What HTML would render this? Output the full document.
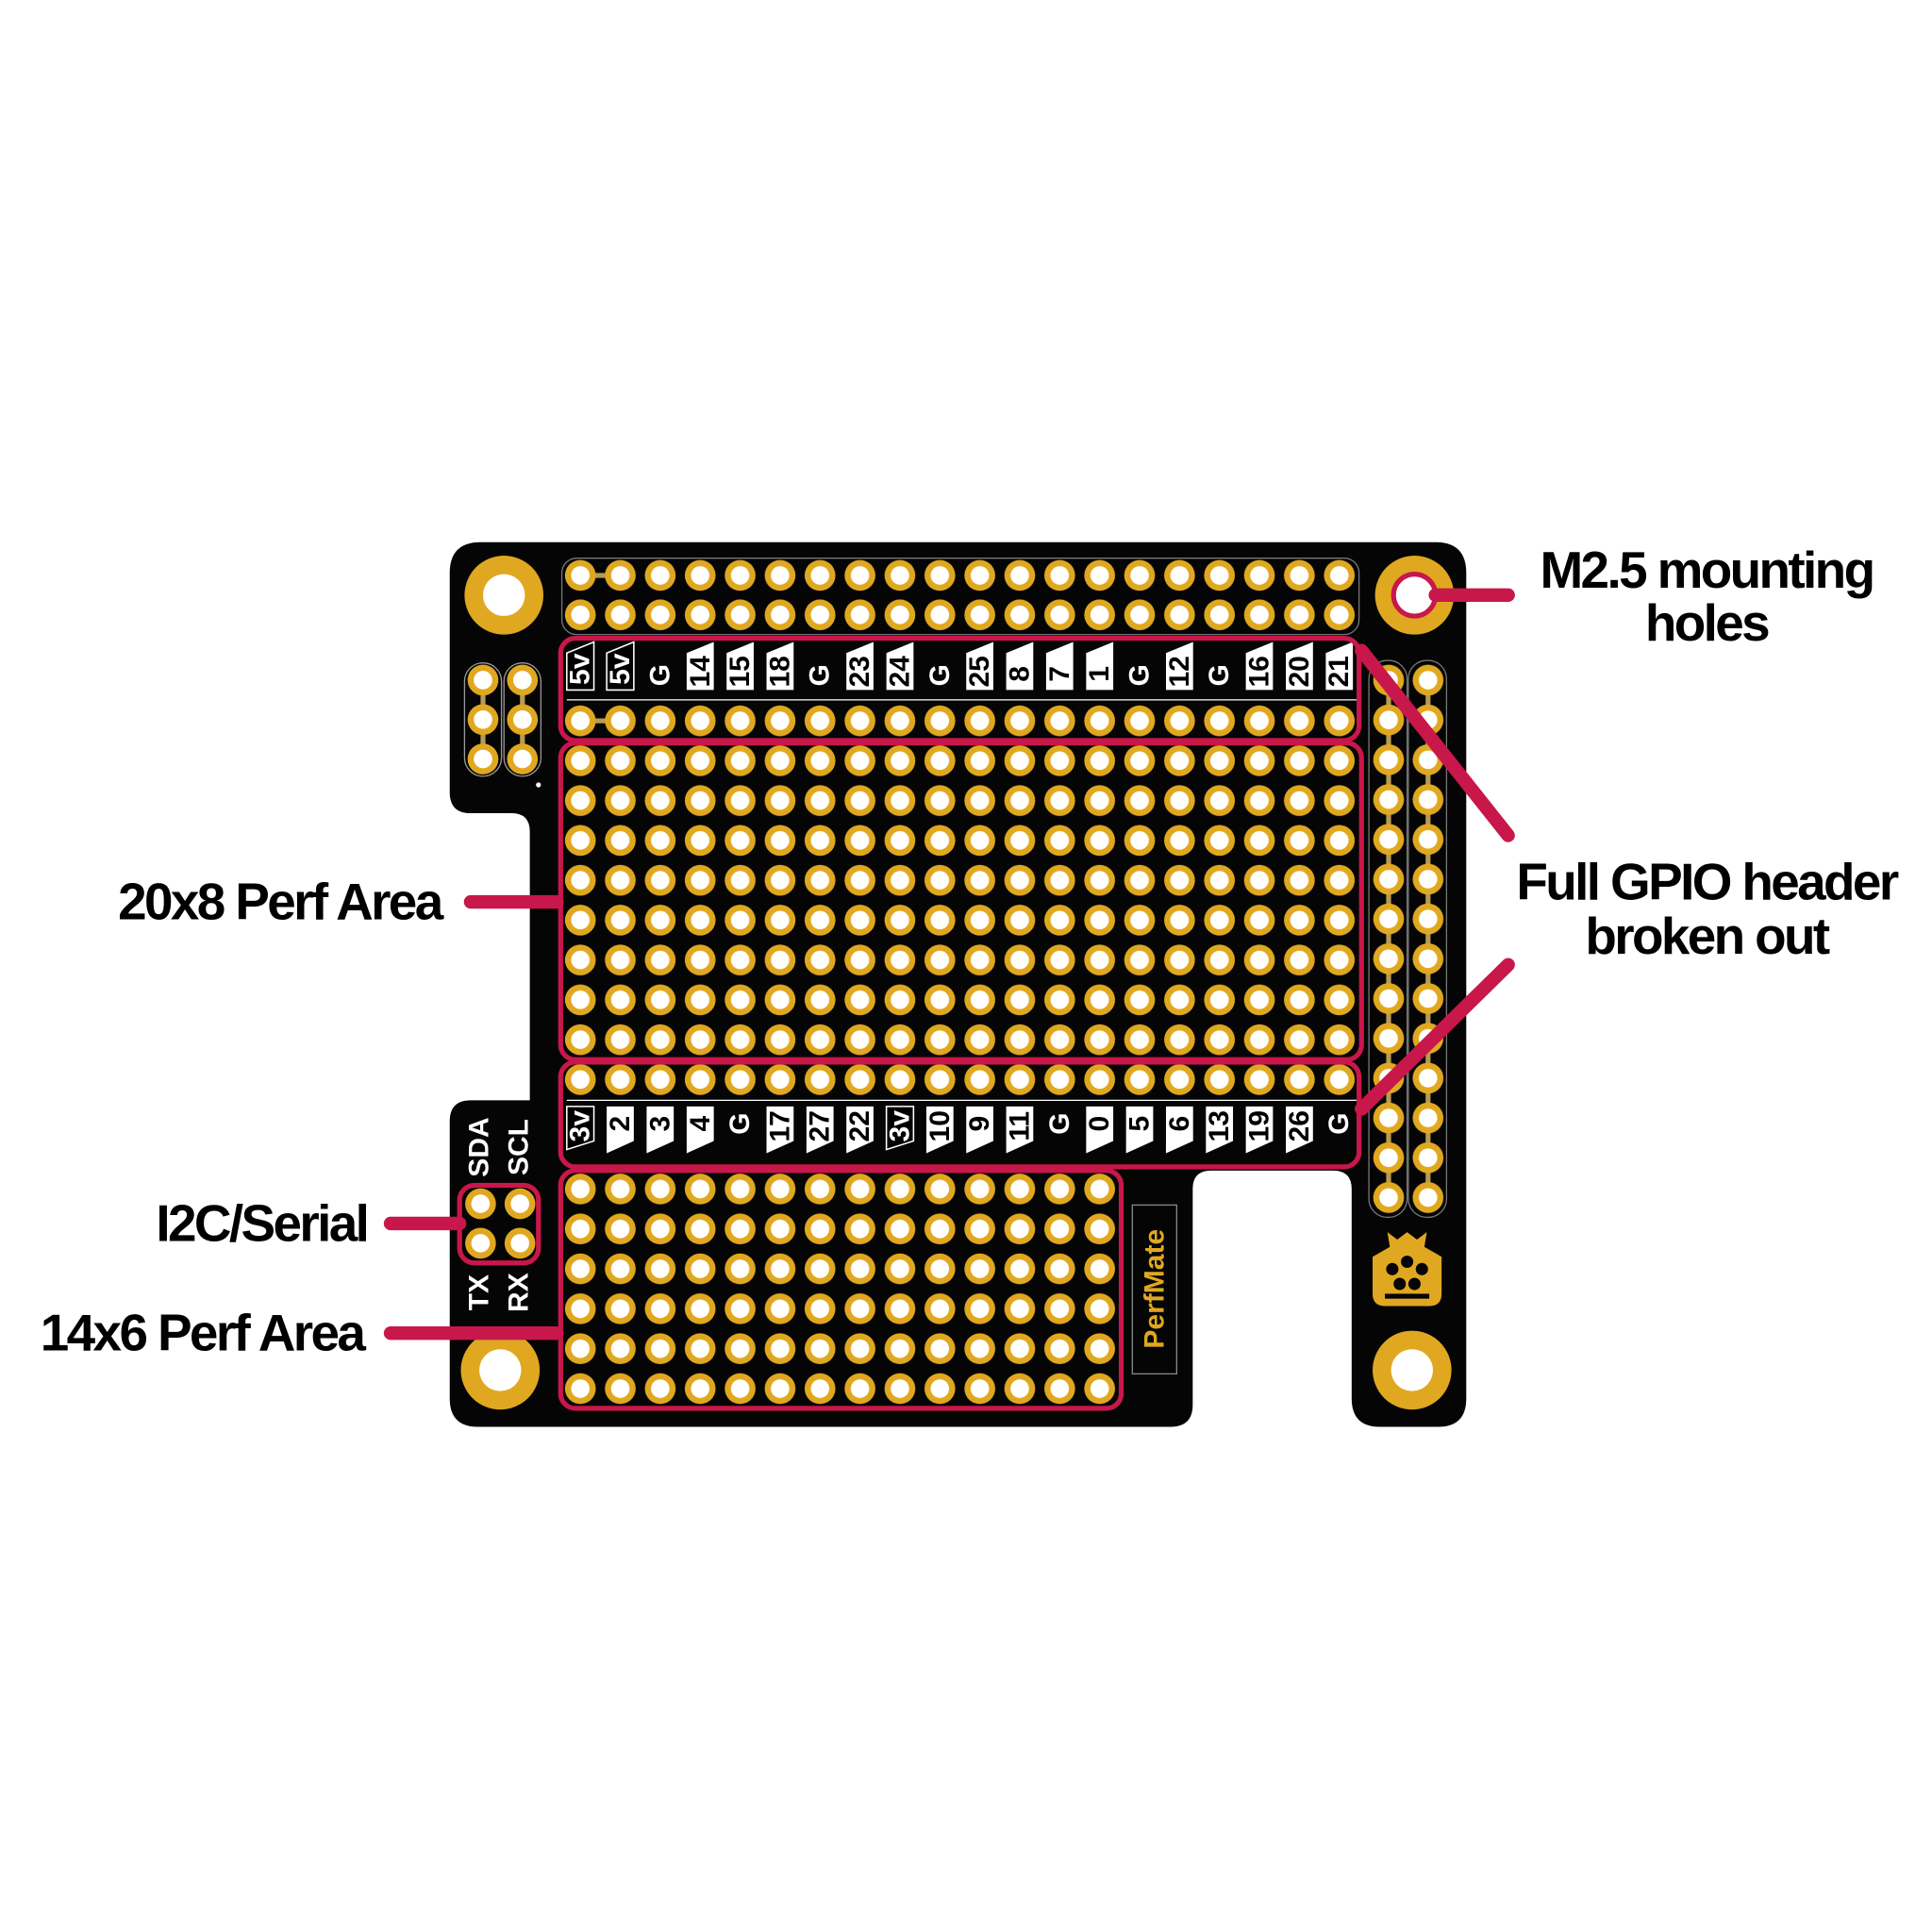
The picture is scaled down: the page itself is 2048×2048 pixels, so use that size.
<!DOCTYPE html>
<html><head><meta charset="utf-8"><style>
html,body{margin:0;padding:0;background:#fff}
svg{display:block}
.lb{font-family:"Liberation Sans",sans-serif;font-weight:bold;font-size:42px;letter-spacing:-2px;fill:#000}
.pl{font-family:"Liberation Sans",sans-serif;font-weight:bold;font-size:23px;dominant-baseline:central;text-anchor:middle}
</style></head><body>
<svg width="2048" height="2048" viewBox="0 0 1568 1568" xmlns="http://www.w3.org/2000/svg">
<defs>
<g id="pad"><circle r="12.5" fill="#e0a820"/><circle r="7.5" fill="#fff"/></g>
<pattern id="pA" patternUnits="userSpaceOnUse" x="454.8" y="450.8" width="32.42" height="32" ><use href="#pad" x="16.21" y="16.2"/></pattern>
<pattern id="pB" patternUnits="userSpaceOnUse" x="454.8" y="568.8" width="32.42" height="32.35"><use href="#pad" x="16.21" y="16.2"/></pattern>
<pattern id="pD" patternUnits="userSpaceOnUse" x="454.8" y="948.8" width="32.42" height="32.4"><use href="#pad" x="16.21" y="16.2"/></pattern>
<pattern id="pE" patternUnits="userSpaceOnUse" x="1111" y="535.85" width="32" height="32.3"><use href="#pad" x="16" y="16.15"/></pattern>
</defs>
<path d="M390 440 H1165 Q1190 440 1190 465 V1135 Q1190 1158 1167 1158 H1120 Q1097 1158 1097 1135 V965 Q1097 950 1082 950 H983 Q968 950 968 965 V1140 Q968 1158 950 1158 H388 Q365 1158 365 1135 V910 Q365 893 382 893 H430 V675 Q430 660 415 660 H382 Q365 660 365 643 V465 Q365 440 390 440 Z" fill="#050505"/>
<rect x="456" y="453" width="647" height="62" rx="12" fill="none" stroke="#777" stroke-width="1"/>
<rect x="377" y="538" width="30" height="92" rx="15" fill="none" stroke="#999" stroke-width="1"/>
<rect x="409" y="538" width="30" height="92" rx="15" fill="none" stroke="#999" stroke-width="1"/>
<rect x="1111" y="536" width="31" height="452" rx="15" fill="none" stroke="#777" stroke-width="1"/>
<rect x="1143" y="536" width="31" height="452" rx="15" fill="none" stroke="#777" stroke-width="1"/>
<g stroke="#b89a50" stroke-width="4">
<line x1="471" y1="467" x2="503" y2="467"/><line x1="471" y1="585" x2="503" y2="585"/>
<line x1="392" y1="552" x2="392" y2="616"/><line x1="424" y1="552" x2="424" y2="616"/>
<line x1="1127" y1="552" x2="1127" y2="972"/><line x1="1159" y1="552" x2="1159" y2="972"/>
</g>
<rect x="454.8" y="450.8" width="648.4" height="64" fill="url(#pA)"/>
<rect x="454.8" y="568.8" width="648.4" height="323.5" fill="url(#pB)"/>
<rect x="454.8" y="948.8" width="453.9" height="194.4" fill="url(#pD)"/>
<rect x="1111" y="535.85" width="64" height="452.2" fill="url(#pE)"/>
<use href="#pad" x="392" y="552"/><use href="#pad" x="424" y="552"/>
<use href="#pad" x="392" y="584"/><use href="#pad" x="424" y="584"/>
<use href="#pad" x="392" y="616"/><use href="#pad" x="424" y="616"/>
<use href="#pad" x="390" y="977"/><use href="#pad" x="422" y="977"/>
<use href="#pad" x="390" y="1009"/><use href="#pad" x="422" y="1009"/>
<circle cx="437" cy="637" r="2" fill="#fff"/>
<g fill="#e0a820"><circle cx="409" cy="483" r="32"/><circle cx="1148" cy="483" r="32"/><circle cx="406" cy="1112" r="32"/><circle cx="1146" cy="1112" r="32"/></g>
<g fill="#fff"><circle cx="409" cy="483" r="17"/><circle cx="406" cy="1112" r="17"/><circle cx="1146" cy="1112" r="17"/></g>
<circle cx="1148" cy="483" r="17" fill="#fff" stroke="#c8174a" stroke-width="4"/>
<g stroke="#fff" stroke-width="1" fill="none"><line x1="460" y1="568" x2="1103" y2="568"/><line x1="460" y1="893" x2="1103" y2="893"/></g>
<g class="pl">
<polygon points="460,530 482,521 482,560 460,560" fill="#000" stroke="#fff" stroke-width="1.2"/><text x="471" y="543" fill="#fff" transform="rotate(-90 471 543)">5v</text>
<polygon points="492.4,530 514.4,521 514.4,560 492.4,560" fill="#000" stroke="#fff" stroke-width="1.2"/><text x="503.4" y="543" fill="#fff" transform="rotate(-90 503.4 543)">5v</text>
<text x="535.8" y="548" fill="#fff" transform="rotate(-90 535.8 548)">G</text>
<polygon points="557.3,530 579.3,521 579.3,560 557.3,560" fill="#fff"/><text x="568.3" y="545" fill="#000" transform="rotate(-90 568.3 545)">14</text>
<polygon points="589.7,530 611.7,521 611.7,560 589.7,560" fill="#fff"/><text x="600.7" y="545" fill="#000" transform="rotate(-90 600.7 545)">15</text>
<polygon points="622.1,530 644.1,521 644.1,560 622.1,560" fill="#fff"/><text x="633.1" y="545" fill="#000" transform="rotate(-90 633.1 545)">18</text>
<text x="665.5" y="548" fill="#fff" transform="rotate(-90 665.5 548)">G</text>
<polygon points="686.9,530 708.9,521 708.9,560 686.9,560" fill="#fff"/><text x="697.9" y="545" fill="#000" transform="rotate(-90 697.9 545)">23</text>
<polygon points="719.4,530 741.4,521 741.4,560 719.4,560" fill="#fff"/><text x="730.4" y="545" fill="#000" transform="rotate(-90 730.4 545)">24</text>
<text x="762.8" y="548" fill="#fff" transform="rotate(-90 762.8 548)">G</text>
<polygon points="784.2,530 806.2,521 806.2,560 784.2,560" fill="#fff"/><text x="795.2" y="545" fill="#000" transform="rotate(-90 795.2 545)">25</text>
<polygon points="816.6,530 838.6,521 838.6,560 816.6,560" fill="#fff"/><text x="827.6" y="547" fill="#000" transform="rotate(-90 827.6 547)">8</text>
<polygon points="849,530 871,521 871,560 849,560" fill="#fff"/><text x="860" y="547" fill="#000" transform="rotate(-90 860 547)">7</text>
<polygon points="881.5,530 903.5,521 903.5,560 881.5,560" fill="#fff"/><text x="892.5" y="547" fill="#000" transform="rotate(-90 892.5 547)">1</text>
<text x="924.9" y="548" fill="#fff" transform="rotate(-90 924.9 548)">G</text>
<polygon points="946.3,530 968.3,521 968.3,560 946.3,560" fill="#fff"/><text x="957.3" y="545" fill="#000" transform="rotate(-90 957.3 545)">12</text>
<text x="989.7" y="548" fill="#fff" transform="rotate(-90 989.7 548)">G</text>
<polygon points="1011.1,530 1033.1,521 1033.1,560 1011.1,560" fill="#fff"/><text x="1022.1" y="545" fill="#000" transform="rotate(-90 1022.1 545)">16</text>
<polygon points="1043.6,530 1065.6,521 1065.6,560 1043.6,560" fill="#fff"/><text x="1054.6" y="545" fill="#000" transform="rotate(-90 1054.6 545)">20</text>
<polygon points="1076,530 1098,521 1098,560 1076,560" fill="#fff"/><text x="1087" y="545" fill="#000" transform="rotate(-90 1087 545)">21</text>
</g>
<g class="pl">
<polygon points="460,898 482,898 482,926 460,933" fill="#000" stroke="#fff" stroke-width="1.2"/><text x="471" y="914" fill="#fff" transform="rotate(-90 471 914)">3v</text>
<polygon points="492.4,898 514.4,898 514.4,926 492.4,936" fill="#fff"/><text x="503.4" y="912" fill="#000" transform="rotate(-90 503.4 912)">2</text>
<polygon points="524.8,898 546.8,898 546.8,926 524.8,936" fill="#fff"/><text x="535.8" y="912" fill="#000" transform="rotate(-90 535.8 912)">3</text>
<polygon points="557.3,898 579.3,898 579.3,926 557.3,936" fill="#fff"/><text x="568.3" y="912" fill="#000" transform="rotate(-90 568.3 912)">4</text>
<text x="600.7" y="912" fill="#fff" transform="rotate(-90 600.7 912)">G</text>
<polygon points="622.1,898 644.1,898 644.1,926 622.1,936" fill="#fff"/><text x="633.1" y="914" fill="#000" transform="rotate(-90 633.1 914)">17</text>
<polygon points="654.5,898 676.5,898 676.5,926 654.5,936" fill="#fff"/><text x="665.5" y="914" fill="#000" transform="rotate(-90 665.5 914)">27</text>
<polygon points="686.9,898 708.9,898 708.9,926 686.9,936" fill="#fff"/><text x="697.9" y="914" fill="#000" transform="rotate(-90 697.9 914)">22</text>
<polygon points="719.4,898 741.4,898 741.4,926 719.4,933" fill="#000" stroke="#fff" stroke-width="1.2"/><text x="730.4" y="914" fill="#fff" transform="rotate(-90 730.4 914)">3v</text>
<polygon points="751.8,898 773.8,898 773.8,926 751.8,936" fill="#fff"/><text x="762.8" y="914" fill="#000" transform="rotate(-90 762.8 914)">10</text>
<polygon points="784.2,898 806.2,898 806.2,926 784.2,936" fill="#fff"/><text x="795.2" y="912" fill="#000" transform="rotate(-90 795.2 912)">9</text>
<polygon points="816.6,898 838.6,898 838.6,926 816.6,936" fill="#fff"/><text x="827.6" y="914" fill="#000" transform="rotate(-90 827.6 914)">11</text>
<text x="860" y="912" fill="#fff" transform="rotate(-90 860 912)">G</text>
<polygon points="881.5,898 903.5,898 903.5,926 881.5,936" fill="#fff"/><text x="892.5" y="912" fill="#000" transform="rotate(-90 892.5 912)">0</text>
<polygon points="913.9,898 935.9,898 935.9,926 913.9,936" fill="#fff"/><text x="924.9" y="912" fill="#000" transform="rotate(-90 924.9 912)">5</text>
<polygon points="946.3,898 968.3,898 968.3,926 946.3,936" fill="#fff"/><text x="957.3" y="912" fill="#000" transform="rotate(-90 957.3 912)">6</text>
<polygon points="978.7,898 1000.7,898 1000.7,926 978.7,936" fill="#fff"/><text x="989.7" y="914" fill="#000" transform="rotate(-90 989.7 914)">13</text>
<polygon points="1011.1,898 1033.1,898 1033.1,926 1011.1,936" fill="#fff"/><text x="1022.1" y="914" fill="#000" transform="rotate(-90 1022.1 914)">19</text>
<polygon points="1043.6,898 1065.6,898 1065.6,926 1043.6,936" fill="#fff"/><text x="1054.6" y="914" fill="#000" transform="rotate(-90 1054.6 914)">26</text>
<text x="1087" y="912" fill="#fff" transform="rotate(-90 1087 912)">G</text>
<text x="389" y="931" fill="#fff" transform="rotate(-90 389 931)">SDA</text>
<text x="421" y="931" fill="#fff" transform="rotate(-90 421 931)">SCL</text>
<text x="389" y="1049" fill="#fff" transform="rotate(-90 389 1049)">TX</text>
<text x="421" y="1049" fill="#fff" transform="rotate(-90 421 1049)">RX</text>
</g>
<rect x="919" y="978" width="36" height="137" fill="none" stroke="#888" stroke-width="1"/>
<text class="pl" x="937" y="1046" fill="#e0a820" font-size="20" transform="rotate(-90 937 1046)">PerfMate</text>
<g fill="#e0a820">
<path d="M1142 1000 L1150 1006 L1158 1000 L1156 1012 L1170 1020 L1170 1050 Q1170 1060 1160 1060 H1124 Q1114 1060 1114 1050 V1020 L1128 1012 L1126 1000 L1134 1006 Z"/>
</g>
<g fill="#050505"><circle cx="1130" cy="1030" r="5"/><circle cx="1142" cy="1024" r="5"/><circle cx="1154" cy="1030" r="5"/><circle cx="1136" cy="1042" r="5"/><circle cx="1148" cy="1042" r="5"/><rect x="1124" y="1050" width="36" height="4"/></g>
<g fill="none" stroke="#c8174a" stroke-width="4">
<rect x="455" y="518" width="648" height="83" rx="12"/>
<rect x="455" y="603" width="650" height="257" rx="12"/>
<rect x="455" y="862" width="648" height="85" rx="12"/>
<rect x="455" y="950" width="455" height="193" rx="12"/>
<rect x="373" y="962" width="64" height="63" rx="12"/>
</g>
<g stroke="#c8174a" stroke-width="11" stroke-linecap="round">
<line x1="1165" y1="483" x2="1224" y2="483"/>
<line x1="1105" y1="528" x2="1224" y2="678"/>
<line x1="1224" y1="783" x2="1105" y2="900"/>
<line x1="382" y1="732" x2="452" y2="732"/>
<line x1="317" y1="993" x2="373" y2="993"/>
<line x1="317" y1="1082" x2="452" y2="1082"/>
</g>
<text class="lb" x="1385" y="477" text-anchor="middle">M2.5 mounting</text>
<text class="lb" x="1385" y="520" text-anchor="middle">holes</text>
<text class="lb" x="1385" y="730" text-anchor="middle">Full GPIO header</text>
<text class="lb" x="1385" y="774" text-anchor="middle">broken out</text>
<text class="lb" x="358" y="746" text-anchor="end">20x8 Perf Area</text>
<text class="lb" x="298" y="1007" text-anchor="end">I2C/Serial</text>
<text class="lb" x="295" y="1096" text-anchor="end">14x6 Perf Area</text>
</svg>
</body></html>
